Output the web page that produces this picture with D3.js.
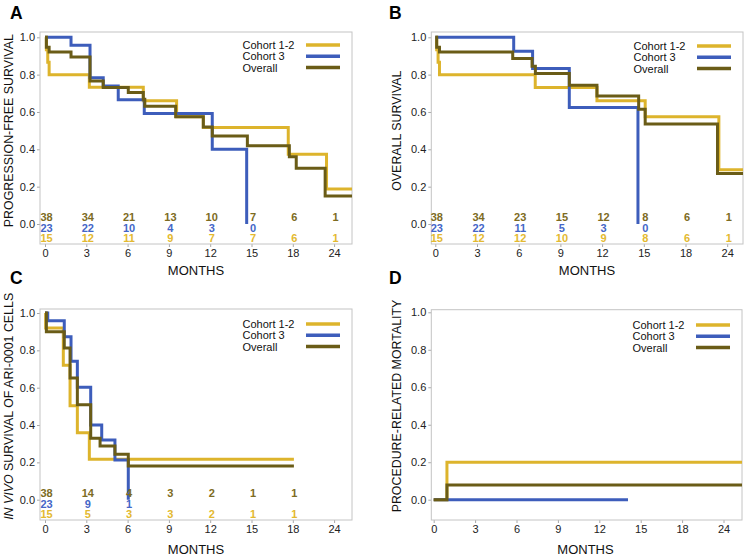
<!DOCTYPE html>
<html><head><meta charset="utf-8">
<script src="https://cdn.jsdelivr.net/npm/d3@7"></script>
<style>
html,body{margin:0;padding:0;background:#fff;}
svg{display:block;font-family:"Liberation Sans",Arial,Helvetica,sans-serif;}
</style></head>
<body><svg id="c" width="744" height="558"></svg>
<script>
// ---------- data ----------
const seriesNames = ["Cohort 1-2", "Cohort 3", "Overall"];
const xTickValues = [0, 3, 6, 9, 12, 15, 18, 24];
const yTickValues = [0, 0.2, 0.4, 0.6, 0.8, 1.0];

// Panel A: progression-free survival  [month, survival]
const aCohort12 = [[0,1],[0.1,0.933],[0.2,0.867],[0.3,0.8],[3.22,0.733],[7.14,0.66],[9.56,0.574],[11.5,0.517],[17.67,0.373],[22.9,0.187],[26.8,0.187]];
const aCohort3  = [[0,1],[1.89,0.957],[3.27,0.783],[4.23,0.739],[5.32,0.665],[7.21,0.592],[12.15,0.40],[14.65,0]];
const aOverall  = [[0,1],[0.1,0.947],[0.3,0.921],[1.89,0.895],[3.27,0.766],[4.23,0.731],[6.05,0.704],[7.14,0.668],[7.25,0.631],[9.49,0.574],[11.5,0.52],[12.15,0.472],[14.7,0.419],[17.75,0.36],[18.5,0.298],[22.7,0.15],[26.8,0.15]];
const aRiskOverall  = [38,34,21,13,10,7,6,1];
const aRiskCohort3  = [23,22,10,4,3,0];
const aRiskCohort12 = [15,12,11,9,7,7,6,1];

// Panel B: overall survival
const bCohort12 = [[0,1],[0.1,0.933],[0.2,0.867],[0.3,0.8],[7.19,0.731],[11.63,0.66],[15.1,0.574],[22.8,0.29],[26.8,0.29]];
const bCohort3  = [[0,1],[5.64,0.925],[7.0,0.833],[9.64,0.624],[14.58,0]];
const bOverall  = [[0,1],[0.1,0.947],[0.3,0.921],[5.57,0.886],[6.96,0.845],[7.2,0.806],[9.64,0.743],[11.63,0.686],[14.63,0.615],[15.1,0.535],[22.6,0.271],[26.8,0.271]];
const bRiskOverall  = [38,34,23,15,12,8,6,1];
const bRiskCohort3  = [23,22,11,5,3,0];
const bRiskCohort12 = [15,12,12,10,9,8,6,1];

// Panel C: in vivo survival of ARI-0001 cells
const cCohort12 = [[0,1],[0.05,0.92],[1.33,0.72],[1.82,0.503],[2.35,0.359],[3.22,0.216],[18.16,0.216]];
const cCohort3  = [[0,1],[0.2,0.959],[1.40,0.873],[1.89,0.741],[2.35,0.602],[3.32,0.40],[4.12,0.32],[5.08,0.213],[6.05,0]];
const cOverall  = [[0,1],[0.1,0.90],[1.40,0.8125],[1.82,0.652],[2.35,0.509],[3.32,0.329],[4.0,0.288],[5.08,0.243],[6.05,0.18],[18.16,0.18]];
const cRiskOverall  = [38,14,4,3,2,1,1];
const cRiskCohort3  = [23,9,1];
const cRiskCohort12 = [15,5,3,3,2,1,1];

// Panel D: procedure-related mortality
const dCohort12 = [[0,0],[0.96,0.2],[26.8,0.2]];
const dCohort3  = [[0,0],[14.08,0]];
const dOverall  = [[0,0],[0.96,0.079],[26.8,0.079]];

// ---------- layout & style ----------
const colors = {"Cohort 1-2":"#DDB42C","Cohort 3":"#3D5DBB","Overall":"#6A5C17"};
const riskColors = {"Cohort 1-2":"#E3B930","Cohort 3":"#4466C8","Overall":"#7D6B22"};
const FONT = '"Liberation Sans",Arial,Helvetica,sans-serif';

const panels = [
  {letter:"A", lx:10, ly:18.5, left:40, right:352, top:32, bottom:244, x0:45, step:41.3, y1:37.3, y0:224,
   title:[{t:"PROGRESSION-FREE SURVIVAL"}], tx:13, mx:196, my:275, legY:45,
   series:[aCohort12,aCohort3,aOverall], risk:[aRiskCohort12,aRiskCohort3,aRiskOverall]},
  {letter:"B", lx:389, ly:18.5, left:431.3, right:743, top:32, bottom:244, x0:435.3, step:41.7, y1:37.3, y0:224,
   title:[{t:"OVERALL SURVIVAL"}], tx:400.5, mx:587, my:275, legY:46,
   series:[bCohort12,bCohort3,bOverall], risk:[bRiskCohort12,bRiskCohort3,bRiskOverall]},
  {letter:"C", lx:10, ly:283.5, left:40, right:352, top:309, bottom:520, x0:45, step:41.3, y1:313, y0:499.7,
   title:[{t:"IN VIVO",i:true},{t:" SURVIVAL OF ARI-0001 CELLS"}], tx:12.5, mx:196, my:554, legY:324,
   series:[cCohort12,cCohort3,cOverall], risk:[cRiskCohort12,cRiskCohort3,cRiskOverall]},
  {letter:"D", lx:389, ly:283.5, left:431.3, right:742, top:309.7, bottom:520, x0:433.7, step:41.4, y1:312.3, y0:499.7,
   title:[{t:"PROCEDURE-RELATED MORTALITY"}], tx:401, mx:585.5, my:553.5, legY:325,
   series:[dCohort12,dCohort3,dOverall], risk:null}
];

const svg = d3.select("#c");

panels.forEach((p, pi) => {
  const x = d3.scaleLinear().domain([0, 18, 24])
    .range([p.x0, p.x0 + 6*p.step, p.x0 + 7*p.step]);
  const y = d3.scaleLinear().domain([0, 1]).range([p.y0, p.y1]);
  const g = svg.append("g");

  // panel letter
  g.append("text").attr("x", p.lx).attr("y", p.ly)
    .attr("font-size", 17.5).attr("font-weight", "bold").attr("fill", "#000").text(p.letter);

  // clip
  const cid = "clip" + pi;
  svg.append("defs").append("clipPath").attr("id", cid)
    .append("rect").attr("x", p.left).attr("y", p.top)
    .attr("width", p.right - p.left).attr("height", p.bottom - p.top);

  // axes
  const xAxis = d3.axisBottom(x).tickValues(xTickValues).tickSize(3).tickPadding(2).tickFormat(d3.format("d"));
  const gx = g.append("g").attr("transform", `translate(0,${p.bottom})`).call(xAxis);
  const yAxis = d3.axisLeft(y).tickValues(yTickValues).tickSize(3).tickPadding(2).tickFormat(d3.format(".1f"));
  const gy = g.append("g").attr("transform", `translate(${p.left},0)`).call(yAxis);
  [gx, gy].forEach(a => {
    a.select(".domain").remove();
    a.selectAll(".tick line").attr("stroke", "#a8a8a8");
    a.selectAll(".tick text").attr("fill", "#222").attr("font-size", 11).attr("font-family", FONT);
  });

  // frame
  g.append("rect").attr("x", p.left).attr("y", p.top)
    .attr("width", p.right - p.left).attr("height", p.bottom - p.top)
    .attr("fill", "none").attr("stroke", "#c4c4c4").attr("stroke-width", 1);

  // curves
  const line = d3.line().x(d => x(d[0])).y(d => y(d[1])).curve(d3.curveStepAfter);
  const cg = g.append("g").attr("clip-path", `url(#${cid})`);
  p.series.forEach((s, si) => {
    cg.append("path").datum(s).attr("d", line)
      .attr("fill", "none").attr("stroke", colors[seriesNames[si]])
      .attr("stroke-width", 3).attr("stroke-linejoin", "miter").attr("stroke-linecap", "butt");
  });

  // numbers at risk
  if (p.risk) {
    const offsets = [14.5, 4, -6.5]; // Cohort 1-2, Cohort 3, Overall rows
    p.risk.forEach((arr, si) => {
      g.append("g").selectAll("text").data(arr).join("text")
        .attr("x", (d, i) => x(xTickValues[i]) + 1.5)
        .attr("y", y(0) + offsets[si])
        .attr("dy", "0.36em")
        .attr("text-anchor", "middle")
        .attr("font-size", 11).attr("font-weight", "bold")
        .attr("fill", riskColors[seriesNames[si]])
        .text(d => d);
    });
  }

  // legend
  seriesNames.forEach((n, i) => {
    const ly = p.legY + i * 11.3;
    g.append("text").attr("x", p.right - 109.5).attr("y", ly).attr("dy", "0.36em")
      .attr("font-size", 11).attr("fill", "#111").text(n);
    g.append("line").attr("x1", p.right - 46).attr("x2", p.right - 12)
      .attr("y1", ly).attr("y2", ly).attr("stroke", colors[n]).attr("stroke-width", 3.5);
  });

  // y title
  const yt = g.append("text")
    .attr("transform", `translate(${p.tx},${(y(0) + y(1)) / 2}) rotate(-90)`)
    .attr("text-anchor", "middle").attr("font-size", 12.4).attr("fill", "#111");
  p.title.forEach(seg => {
    const ts = yt.append("tspan").text(seg.t);
    if (seg.i) ts.attr("font-style", "italic");
  });

  // x title
  g.append("text").attr("x", p.mx).attr("y", p.my).attr("text-anchor", "middle")
    .attr("font-size", 13).attr("fill", "#111").text("MONTHS");
});
</script>
</body></html>
